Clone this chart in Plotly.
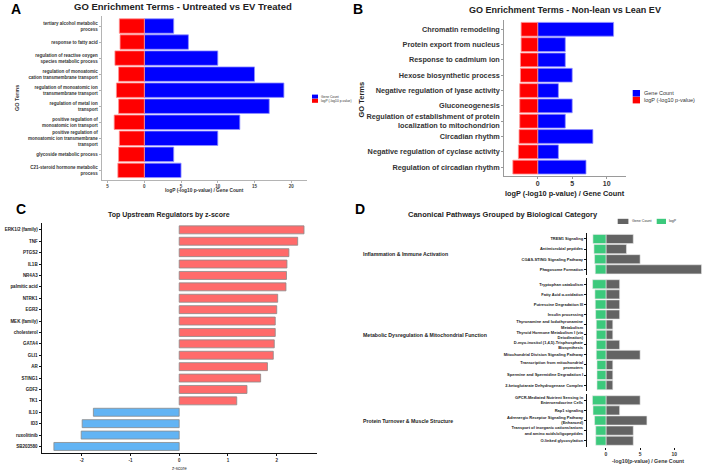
import plotly.graph_objects as go

W, H = 709, 471
def px(x): return x / W
def py(y): return 1 - y / H

# ---------------- Data ----------------
A_terms = ["tertiary alcohol metabolic<br>process", "response to fatty acid",
           "regulation of reactive oxygen<br>species metabolic process",
           "regulation of monoatomic<br>cation transmembrane transport",
           "regulation of monoatomic ion<br>transmembrane transport",
           "regulation of metal ion<br>transport",
           "positive regulation of<br>monoatomic ion transport",
           "positive regulation of<br>monoatomic ion transmembrane<br>transport",
           "glycoside metabolic process",
           "C21-steroid hormone metabolic<br>process"]
A_logp = [3.4, 3.3, 4.0, 3.5, 3.8, 3.5, 4.1, 3.4, 3.5, 3.6]
A_count = [4, 6, 10, 15, 19, 17, 13, 10, 4, 5]

B_terms = ["Chromatin remodeling", "Protein export from nucleus", "Response to cadmium ion",
           "Hexose biosynthetic process", "Negative regulation of lyase activity", "Gluconeogenesis",
           "Regulation of establishment of protein<br>localization to mitochondrion",
           "Circadian rhythm", "Negative regulation of cyclase activity", "Regulation of circadian rhythm"]
B_logp = [2.4, 2.4, 2.5, 2.5, 2.6, 2.6, 2.6, 2.7, 2.8, 3.6]
B_count = [11, 4, 4, 5, 3, 5, 4, 8, 3, 7]

C_regs = ["ERK1/2 (family)", "TNF", "PTGS2", "IL1B", "NR4A3", "palmitic acid", "NTRK1", "EGR2",
          "MEK (family)", "cholesterol", "GATA4", "GLI1", "AR", "STING1", "GDF2", "TK1",
          "IL10", "ID3", "ruxolitinib", "SB203580"]
C_z = [2.56, 2.43, 2.25, 2.21, 2.20, 2.19, 2.02, 2.00, 1.97, 1.97, 1.95, 1.93, 1.81, 1.67,
       1.39, 1.18, -1.76, -1.99, -2.01, -2.57]

D_groups = ["Inflammation & Immune Activation",
            "Metabolic Dysregulation & Mitochondrial Function",
            "Protein Turnover & Muscle Structure"]
D_paths = [
    ["TREM1 Signaling", "Antimicrobial peptides", "CGAS-STING Signaling Pathway", "Phagosome Formation"],
    ["Tryptophan catabolism", "Fatty Acid α-oxidation", "Putrescine Degradation III", "Insulin processing",
     "Thyronamine and Iodothyronamine<br>Metabolism", "Thyroid Hormone Metabolism I (via<br>Deiodination)",
     "D-myo-inositol (1,4,5)-Trisphosphate<br>Biosynthesis", "Mitochondrial Division Signaling Pathway",
     "Transcription from mitochondrial<br>promoters", "Spermine and Spermidine Degradation I",
     "2-ketoglutarate Dehydrogenase Complex"],
    ["GPCR-Mediated Nutrient Sensing in<br>Enteroendocrine Cells", "Rap1 signaling",
     "Adrenergic Receptor Signaling Pathway<br>(Enhanced)",
     "Transport of inorganic cations/anions<br>and amino acids/oligopeptides", "O-linked glycosylation"],
]
D_logp = [
    [1.91, 1.76, 1.67, 1.57],
    [1.96, 1.62, 1.57, 1.52, 1.42, 1.42, 1.42, 1.42, 1.32, 1.32, 1.32],
    [1.98, 1.9, 1.67, 1.5, 1.5],
]
D_count = [
    [4, 3, 5, 14],
    [2, 2, 2, 2, 1, 1, 2, 5, 1, 1, 1],
    [5, 2, 6, 4, 4],
]

# ---------------- Styles ----------------
FONT = "Liberation Sans, Arial, sans-serif"
BLUE, RED = "#0000FF", "#FF0000"
C_POS, C_NEG = "#FF6B6B", "#62B4F4"
D_GRAY, D_GREEN = "#636363", "#3CC97C"

fig = go.Figure()

# Panel A
fig.add_trace(go.Bar(y=A_terms, x=A_count, orientation="h", width=0.9, xaxis="x", yaxis="y",
                     marker=dict(color=BLUE, line=dict(color="#9090ff", width=0.8)), showlegend=False))
fig.add_trace(go.Bar(y=A_terms, x=[-v for v in A_logp], orientation="h", width=0.9, xaxis="x", yaxis="y",
                     marker=dict(color=RED, line=dict(color="#ff9090", width=0.8)), showlegend=False))
# Panel B
fig.add_trace(go.Bar(y=B_terms, x=B_count, orientation="h", width=0.9, xaxis="x2", yaxis="y2",
                     marker=dict(color=BLUE, line=dict(color="#9090ff", width=0.8)), showlegend=False))
fig.add_trace(go.Bar(y=B_terms, x=[-v for v in B_logp], orientation="h", width=0.9, xaxis="x2", yaxis="y2",
                     marker=dict(color=RED, line=dict(color="#ff9090", width=0.8)), showlegend=False))
# Panel C
fig.add_trace(go.Bar(y=C_regs, x=C_z, orientation="h", width=0.7, xaxis="x3", yaxis="y3",
                     marker=dict(color=[C_POS if z > 0 else C_NEG for z in C_z],
                                 line=dict(color="#8a8a8a", width=0.8)), showlegend=False))
# Panel D
for gi in range(3):
    ya = "y%d" % (4 + gi)
    fig.add_trace(go.Bar(y=D_paths[gi], x=D_count[gi], orientation="h", width=0.9, xaxis="x4", yaxis=ya,
                         marker=dict(color=D_GRAY, line=dict(color="#e8e8e8", width=0.6)), showlegend=False))
    fig.add_trace(go.Bar(y=D_paths[gi], x=[-v for v in D_logp[gi]], orientation="h", width=0.9,
                         xaxis="x4", yaxis=ya,
                         marker=dict(color=D_GREEN, line=dict(color="#e8e8e8", width=0.6)), showlegend=False))

def cat_axis(cats, top, bottom, size, color, linecolor, bold=True, lw=1, ticklen=2):
    n = len(cats)
    return dict(domain=[py(bottom), py(top)], type="category", categoryorder="array",
                categoryarray=cats, range=[n - 1 + 0.6, -0.6], showline=True, linecolor=linecolor,
                linewidth=lw, ticks="outside", ticklen=ticklen, tickwidth=0.8, tickcolor=linecolor,
                tickfont=dict(family=FONT, size=size, color=color, weight="bold" if bold else "normal"),
                showgrid=False, zeroline=False, fixedrange=True)

def num_axis(left, right, rng, tickvals, ticktext, anchor, size, color, linecolor, showline=True, lw=1,
             bold=True):
    return dict(domain=[px(left), px(right)], range=rng, anchor=anchor, tickvals=tickvals,
                ticktext=ticktext, showline=showline, linecolor=linecolor, linewidth=lw,
                ticks="outside", ticklen=2, tickwidth=0.8, tickcolor=linecolor,
                tickfont=dict(family=FONT, size=size, color=color, weight="bold" if bold else "normal"),
                showgrid=False, zeroline=False, fixedrange=True)

layout = dict(
    width=W, height=H, margin=dict(l=0, r=0, t=0, b=0), paper_bgcolor="white", plot_bgcolor="rgba(0,0,0,0)",
    barmode="relative", font=dict(family=FONT),
    xaxis=num_axis(101.7, 306.7, [-5.8, 22.1], [-5, 0, 5, 10, 15, 20], ["5", "0", "5", "10", "15", "20"],
                   "y", 4.5, "#444", "#b4b4b4"),
    yaxis=dict(cat_axis(A_terms, 16.4, 180, 4.5, "#333", "#b4b4b4"), anchor="x"),
    xaxis2=num_axis(504.3, 626, [-4.84, 12.8], [0, 5, 10], ["0", "5", "10"], "y2", 7, "#333", "#9a9a9a"),
    yaxis2=dict(cat_axis(B_terms, 20.1, 176.3, 7.3, "#333", "#9a9a9a"), anchor="x2"),
    xaxis3=num_axis(41.7, 316.7, [-2.82, 2.82], [-2, -1, 0, 1, 2], ["-2", "-1", "0", "1", "2"], "y3",
                    4.5, "#333", "#111", lw=1.3),
    yaxis3=dict(cat_axis(C_regs, 223, 453.3, 4.5, "#222", "#111", lw=1.3), anchor="x3"),
    xaxis4=num_axis(587, 707, [-2.78, 14.8], [0, 5, 10], ["0", "5", "10"], "y6", 5, "#333", "#111",
                    showline=False),
    yaxis4=dict(cat_axis(D_paths[0], 232.9, 275.4, 4, "#222", "#111", lw=1.2), anchor="x4"),
    yaxis5=dict(cat_axis(D_paths[1], 278.2, 391.2, 4, "#222", "#111", lw=1.2), anchor="x4"),
    yaxis6=dict(cat_axis(D_paths[2], 394.2, 446.8, 4, "#222", "#111", lw=1.2), anchor="x4"),
)

ann = []
def text(x, y, s, size, bold=True, xanchor="center", color="#111", angle=0):
    ann.append(dict(x=px(x), y=py(y), xref="paper", yref="paper", text=s, showarrow=False,
                    xanchor=xanchor, yanchor="middle", textangle=angle,
                    font=dict(family=FONT, size=size, color=color, weight="bold" if bold else "normal")))

# panel letters
text(16, 9, "A", 14, color="#000")
text(358, 9, "B", 14, color="#000")
text(20.5, 208.5, "C", 14, color="#000")
text(360, 208.5, "D", 14, color="#000")
# titles
text(183, 7, "GO Enrichment Terms - Untreated vs EV Treated", 9.5, color="#222")
text(565, 10, "GO Enrichment Terms - Non-lean vs Lean EV", 9, color="#222")
text(169, 215, "Top Upstream Regulators by z-score", 7, color="#222")
text(503, 214, "Canonical Pathways Grouped by Biological Category", 7.5, color="#222")
# axis titles
text(204, 190.7, "logP (-log10 p-value) / Gene Count", 4.8, color="#333")
text(17, 98, "GO Terms", 5.5, color="#333", angle=-90)
text(565, 193.2, "logP (-log10 p-value) / Gene Count", 7.3, color="#222")
text(361.5, 100, "GO Terms", 7.5, color="#222", angle=-90)
text(179, 468.3, "z-score", 4.5, bold=False, color="#333")
text(647.5, 461, "-log10(p-value) / Gene Count", 5.3, color="#333")
# facet strip labels for D
for g, yc in zip(D_groups, [254, 334.7, 420.5]):
    text(361, yc, g, 5.2, xanchor="left", color="#222")

shapes = []
def key(x0, y0, x1, y1, color):
    shapes.append(dict(type="rect", xref="paper", yref="paper", x0=px(x0), x1=px(x1), y0=py(y1), y1=py(y0),
                       fillcolor=color, line=dict(width=0)))

# legend A
key(312, 94.6, 318, 98.6, BLUE); text(319, 96.6, "Gene Count", 3.3, bold=False, xanchor="left", color="#333")
key(312, 98.8, 318, 102.8, RED); text(319, 100.8, "logP (-log10 p-value)", 3.3, bold=False, xanchor="left", color="#333")
# legend B
key(632.7, 90, 640, 96.6, BLUE); text(641.5, 93.2, "Gene Count", 5.5, bold=False, xanchor="left", color="#333")
key(632.7, 96.8, 640, 103.4, RED); text(641.5, 100.2, "logP (-log10 p-value)", 5.5, bold=False, xanchor="left", color="#333")
# legend D
key(617.7, 218.8, 628.4, 224, D_GRAY); text(629.5, 221.4, "Gene Count", 3.6, bold=False, xanchor="left", color="#333")
key(656.7, 218.8, 666, 224, D_GREEN); text(667.2, 221.4, "logP", 3.6, bold=False, xanchor="left", color="#333")

layout["annotations"] = ann
layout["shapes"] = shapes
fig.update_layout(**layout)
try:
    fig.update_xaxes(ticklabelstandoff=-2, selector=dict(anchor="y2"))
except Exception:
    pass
fig.write_html("out.html")
